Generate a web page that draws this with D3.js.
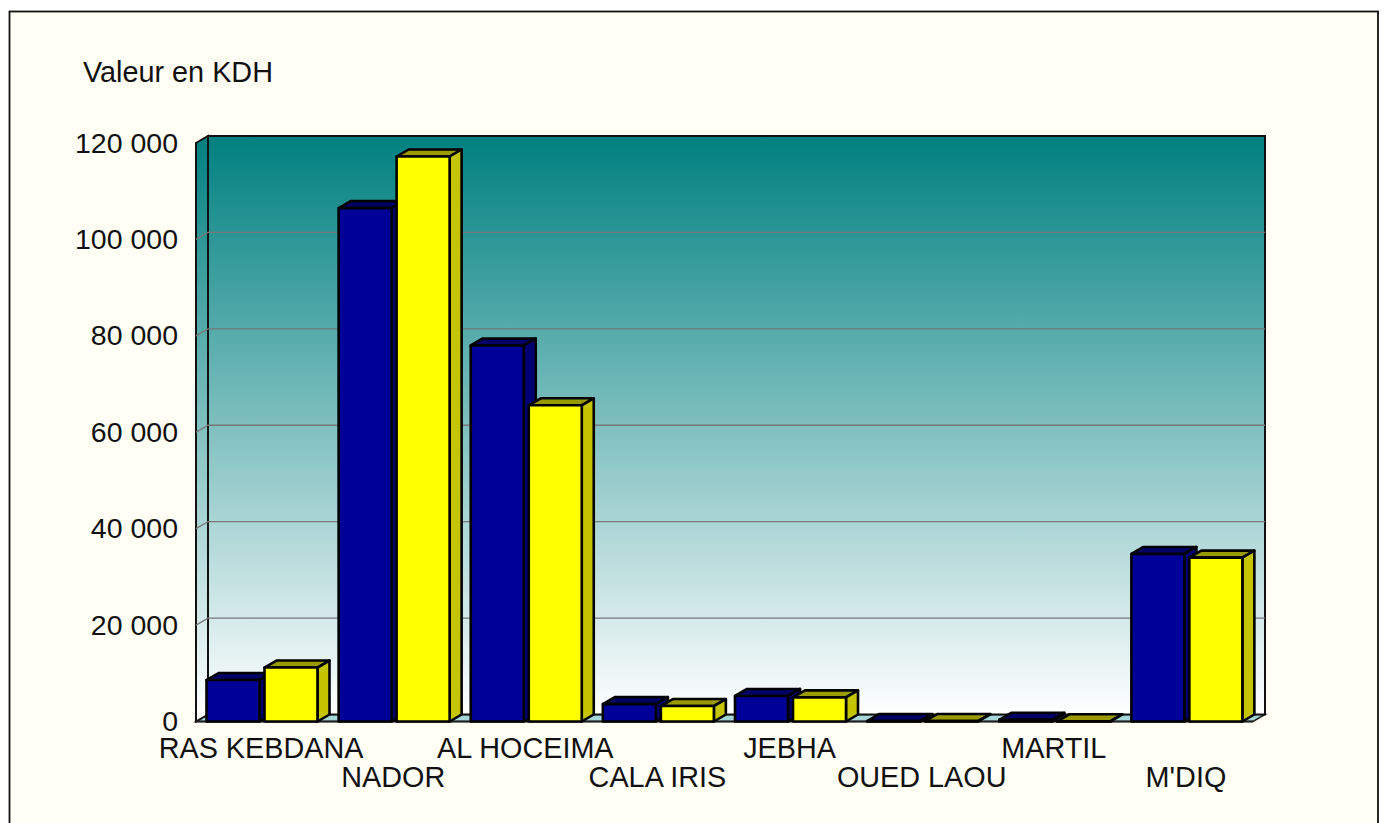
<!DOCTYPE html>
<html>
<head>
    <meta charset="utf-8">
    <title>Valeur en KDH</title>
    <script src="https://d3js.org/d3.v7.min.js"></script>
    <style>
        html, body { margin: 0; padding: 0; background: #fff; overflow: hidden; }
        text { font-family: "Liberation Sans", Arial, sans-serif; fill: #111; }
    </style>
</head>
<body>
    <div id="chart"></div>
    <script>
        const categories = ["RAS KEBDANA", "NADOR", "AL HOCEIMA", "CALA IRIS", "JEBHA", "OUED LAOU", "MARTIL", "M'DIQ"];
        const series = ["a", "b"];
        const serieA = [8600, 106500, 78000, 3600, 5300, 100, 350, 34750];
        const serieB = [11200, 117200, 65600, 3200, 5000, 100, 50, 34000];
        const yTicks = [0, 20000, 40000, 60000, 80000, 100000, 120000];

        const width = 1386, height = 823;
        const depthX = 12, depthY = 7; // 3d offset of the back wall

        const svg = d3.select("#chart").append("svg")
            .attr("width", width)
            .attr("height", height)
            .style("display", "block");

        // page frame
        svg.append("rect")
            .attr("x", 9.5).attr("y", 11.5)
            .attr("width", 1368.5).attr("height", 830)
            .attr("fill", "#fffff5")
            .attr("stroke", "#111")
            .attr("stroke-width", 1.8);

        const y = d3.scaleLinear().domain([0, 120000]).range([721.5, 143]);
        const x = d3.scaleBand().domain(categories).range([196, 1253]);
        const inner = d3.scaleBand().domain(series).range([10.5, 121.5]).paddingInner(0.086);

        const x0 = x.range()[0];
        const x1 = 1265 - depthX;

        const grad = svg.append("defs").append("linearGradient")
            .attr("id", "wall")
            .attr("gradientUnits", "userSpaceOnUse")
            .attr("x1", 0).attr("x2", 0)
            .attr("y1", y(120000) - depthY).attr("y2", y(0) - depthY);
        grad.append("stop").attr("offset", 0).attr("stop-color", "#008080");
        grad.append("stop").attr("offset", 1).attr("stop-color", "#ffffff");

        // floor
        svg.append("path")
            .attr("d", `M${x0},${y(0)}L${x0 + depthX},${y(0) - depthY}L${x1 + depthX},${y(0) - depthY}L${x1},${y(0)}Z`)
            .attr("fill", "#a5d6d8")
            .attr("stroke", "#222")
            .attr("stroke-width", 1.5);

        // left wall
        svg.append("path")
            .attr("d", `M${x0},${y(0)}L${x0},${y(120000)}L${x0 + depthX},${y(120000) - depthY}L${x0 + depthX},${y(0) - depthY}Z`)
            .attr("fill", "url(#wall)")
            .attr("stroke", "#111")
            .attr("stroke-width", 2);

        // back wall
        svg.append("rect")
            .attr("x", x0 + depthX).attr("y", y(120000) - depthY)
            .attr("width", x1 - x0).attr("height", y(0) - y(120000))
            .attr("fill", "url(#wall)")
            .attr("stroke", "#111")
            .attr("stroke-width", 2);

        // gridlines, on the side wall then along the back
        svg.append("g").selectAll("path")
            .data(yTicks.filter(d => d > 0 && d < 120000))
            .join("path")
            .attr("d", d => `M${x0},${y(d)}L${x0 + depthX},${y(d) - depthY}L${x1 + depthX},${y(d) - depthY}`)
            .attr("fill", "none")
            .attr("stroke", "#777")
            .attr("stroke-width", 1.3);

        // front edge of the floor
        svg.append("line")
            .attr("x1", x0).attr("x2", x1)
            .attr("y1", y(0)).attr("y2", y(0))
            .attr("stroke", "#222").attr("stroke-width", 1.8);

        const colors = {
            a: { front: "#000099", top: "#000066", side: "#000073" },
            b: { front: "#ffff00", top: "#999900", side: "#c4c400" }
        };
        const values = { a: serieA, b: serieB };

        series.forEach(s => {
            const g = svg.append("g");
            const bars = g.selectAll("g")
                .data(categories.map((c, i) => ({ c: c, v: values[s][i] })))
                .join("g")
                .attr("stroke", "#000")
                .attr("stroke-width", 2.6)
                .attr("stroke-linejoin", "round");
            const left = d => x(d.c) + inner(s);
            const right = d => left(d) + inner.bandwidth();

            bars.append("path")
                .attr("fill", colors[s].top)
                .attr("d", d => `M${left(d)},${y(d.v)}L${left(d) + depthX},${y(d.v) - depthY}L${right(d) + depthX},${y(d.v) - depthY}L${right(d)},${y(d.v)}Z`);
            bars.append("path")
                .attr("fill", colors[s].side)
                .attr("d", d => `M${right(d)},${y(d.v)}L${right(d) + depthX},${y(d.v) - depthY}L${right(d) + depthX},${y(0) - depthY}L${right(d)},${y(0)}Z`);
            bars.append("rect")
                .attr("fill", colors[s].front)
                .attr("x", left)
                .attr("y", d => y(d.v))
                .attr("width", inner.bandwidth())
                .attr("height", d => y(0) - y(d.v));
        });

        // y axis labels
        const fmt = d => d3.format(",")(d).replace(/,/g, " ");
        svg.append("g").selectAll("text")
            .data(yTicks)
            .join("text")
            .attr("x", 178)
            .attr("y", d => y(d) + 9.5)
            .attr("text-anchor", "end")
            .attr("font-size", 28.5)
            .text(fmt);

        // category labels, staggered on two rows
        svg.append("g").selectAll("text")
            .data(categories)
            .join("text")
            .attr("x", d => x(d) + x.bandwidth() / 2 - 1)
            .attr("y", (d, i) => i % 2 === 0 ? 758 : 787)
            .attr("text-anchor", "middle")
            .attr("font-size", 28.8)
            .text(d => d);

        svg.append("text")
            .attr("x", 83).attr("y", 82)
            .attr("font-size", 28.8)
            .text("Valeur en KDH");
    </script>
</body>
</html>
